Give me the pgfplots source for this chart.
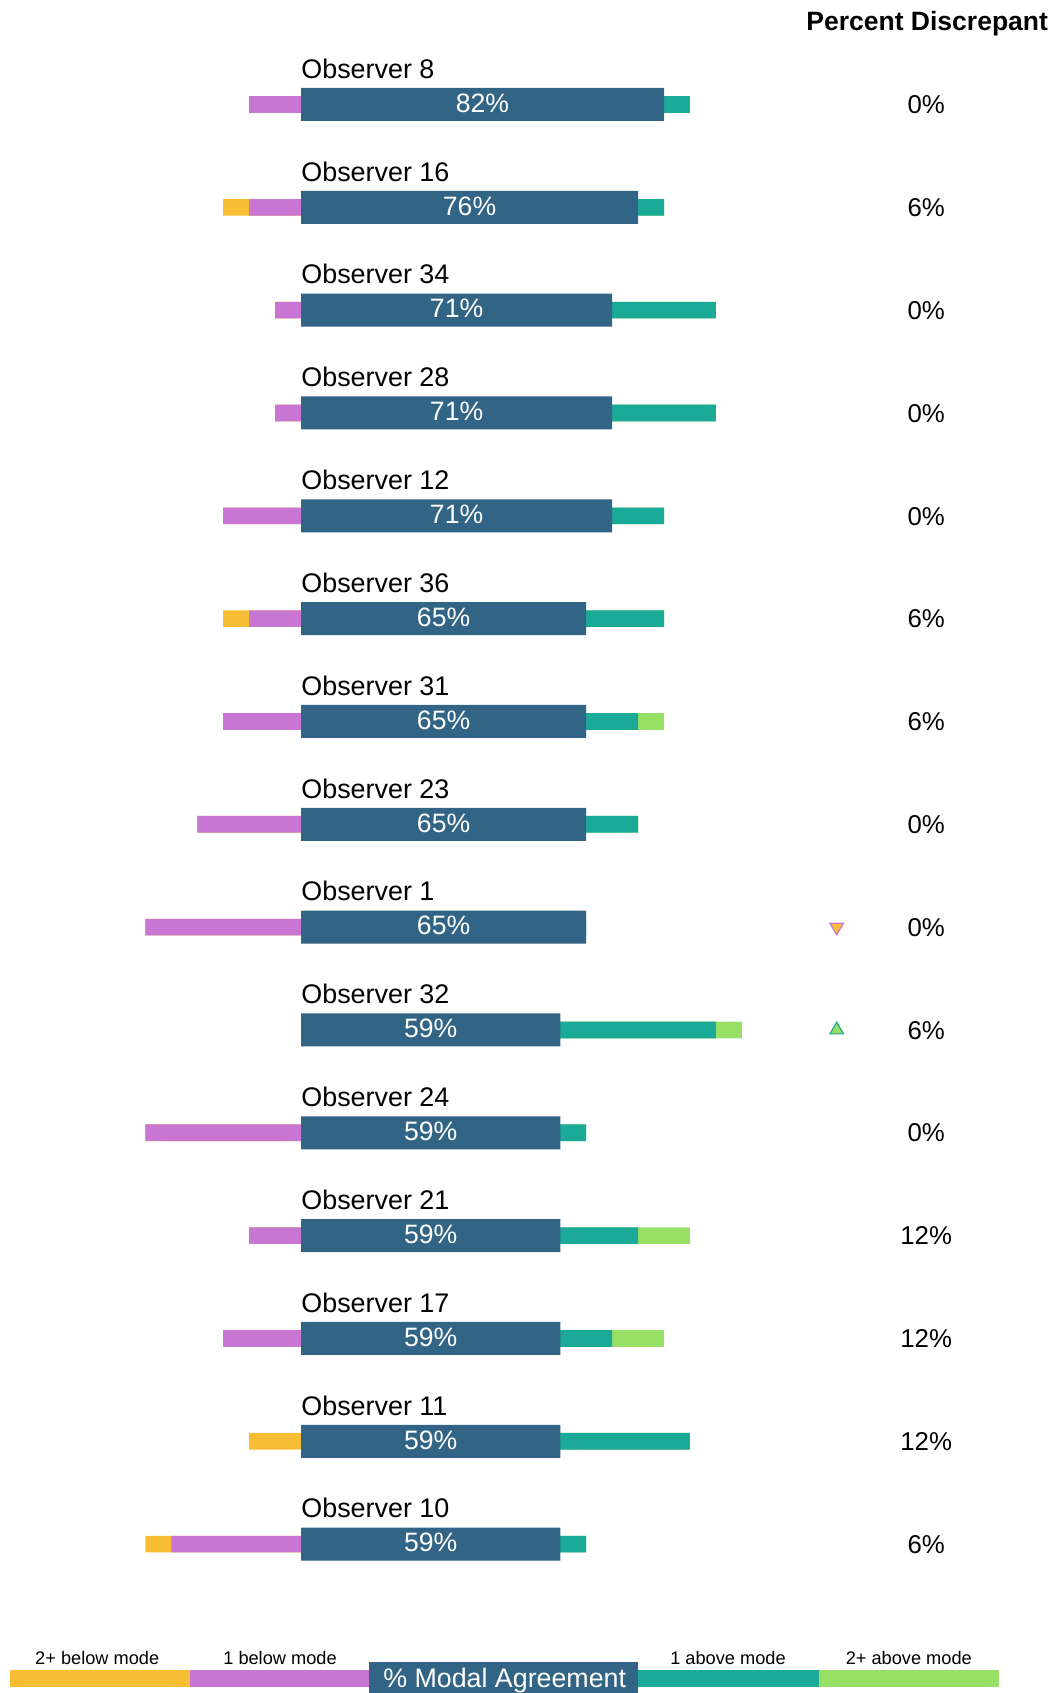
\documentclass[border=0pt]{standalone}
\usepackage{pgfplots}
\usepackage{pgfplotstable}
\usepackage{fontspec}
\setmainfont{Liberation Sans}
\pgfplotsset{compat=1.18}

\definecolor{below2}{HTML}{F7BE33}
\definecolor{below1}{HTML}{C875D4}
\definecolor{modal}{HTML}{326485}
\definecolor{above1}{HTML}{1AAA97}
\definecolor{above2}{HTML}{97E065}

% counts out of 17 cases: b2 = 2+ below mode, b1 = 1 below, m = at mode, a1/a2 above
\pgfplotstableread{
row obs b2 b1 m a1 a2 pct disc
0 8 0 2 14 1 0 82 0
1 16 1 2 13 1 0 76 6
2 34 0 1 12 4 0 71 0
3 28 0 1 12 4 0 71 0
4 12 0 3 12 2 0 71 0
5 36 1 2 11 3 0 65 6
6 31 0 3 11 2 1 65 6
7 23 0 4 11 2 0 65 0
8 1 0 6 11 0 0 65 0
9 32 0 0 10 6 1 59 6
10 24 0 6 10 1 0 59 0
11 21 0 2 10 3 2 59 12
12 17 0 3 10 2 2 59 12
13 11 2 0 10 5 0 59 12
14 10 1 5 10 1 0 59 6
}\obs

\newcommand{\fs}[1]{\fontsize{#1}{1.2\dimexpr#1\relax}\selectfont}

\begin{document}
\begin{tikzpicture}
\begin{axis}[
  scale only axis, width=527.5bp, height=846.5bp,
  xmin=-11.608, xmax=29.078, ymin=-1.016, ymax=15.448,
  y dir=reverse, hide axis, clip=false,
]
% side bars, drawn from the outside in
\addplot[xbar, bar shift=0pt, bar width=8.3bp, fill=above2, draw=none]
  table[x expr=\thisrow{m}+\thisrow{a1}+\thisrow{a2}, y=row] {\obs};
\addplot[xbar, bar shift=0pt, bar width=8.3bp, fill=above1, draw=none]
  table[x expr=\thisrow{m}+\thisrow{a1}, y=row] {\obs};
\addplot[xbar, bar shift=0pt, bar width=8.3bp, fill=below2, draw=none]
  table[x expr=-\thisrow{b1}-\thisrow{b2}, y=row] {\obs};
\addplot[xbar, bar shift=0pt, bar width=8.3bp, fill=below1, draw=none]
  table[x expr=-\thisrow{b1}, y=row] {\obs};
% modal agreement
\addplot[xbar, bar shift=0pt, bar width=16.5bp, fill=modal, draw=none]
  table[x=m, y=row] {\obs};

% labels
\addplot[draw=none, mark=none, point meta=explicit symbolic,
  nodes near coords={Observer \pgfplotspointmeta},
  nodes near coords style={anchor=base west, yshift=13.1bp, inner sep=0pt,
    font=\fs{13.45bp}, text=black}]
  table[x expr=0, y=row, meta=obs] {\obs};
\addplot[draw=none, mark=none, point meta=explicit symbolic,
  nodes near coords={\pgfplotspointmeta\%},
  nodes near coords style={anchor=base, yshift=-3.9bp, inner sep=0pt,
    font=\fs{13.3bp}, text=white}]
  table[x expr=\thisrow{m}/2, y=row, meta=pct] {\obs};
\addplot[draw=none, mark=none, point meta=explicit symbolic,
  nodes near coords={\pgfplotspointmeta\%},
  nodes near coords style={anchor=base, yshift=-4.6bp, inner sep=0pt,
    font=\fs{12.9bp}, text=black}]
  table[x expr=24.11, y=row, meta=disc] {\obs};

% direction markers
\addplot[only marks, mark=triangle*, mark size=3.9bp,
  mark options={rotate=180, fill=below2, draw=below1, line width=0.6bp}]
  coordinates {(20.66,8)};
\addplot[only marks, mark=triangle*, mark size=3.9bp,
  mark options={fill=above2, draw=above1, line width=0.6bp}]
  coordinates {(20.66,9)};

\node[anchor=base, inner sep=0pt, font=\fs{13.25bp}\bfseries] at (axis cs:24.15,-0.718) {Percent Discrepant};
\end{axis}

\pgfresetboundingbox
\useasboundingbox (0,0) rectangle (527.5bp,846.5bp);

% legend strip
\fill[below2] (5bp,3.15bp) rectangle (95bp,11.5bp);
\fill[below1] (95bp,3.15bp) rectangle (185bp,11.5bp);
\fill[above1] (319.15bp,3.15bp) rectangle (409.25bp,11.5bp);
\fill[above2] (409.25bp,3.15bp) rectangle (499.5bp,11.5bp);
\fill[modal] (184.5bp,0bp) rectangle (319.15bp,15.35bp);
\node[anchor=base, inner sep=0pt, text=white, font=\fs{13.4bp}] at (252.35bp,2.65bp) {\% Modal Agreement};
\node[anchor=base, inner sep=0pt, font=\fs{9.1bp}] at (48.6bp,14.5bp) {2+ below mode};
\node[anchor=base, inner sep=0pt, font=\fs{9.1bp}] at (140bp,14.5bp) {1 below mode};
\node[anchor=base, inner sep=0pt, font=\fs{9.1bp}] at (364bp,14.5bp) {1 above mode};
\node[anchor=base, inner sep=0pt, font=\fs{9.1bp}] at (454.4bp,14.5bp) {2+ above mode};
\end{tikzpicture}
\end{document}
